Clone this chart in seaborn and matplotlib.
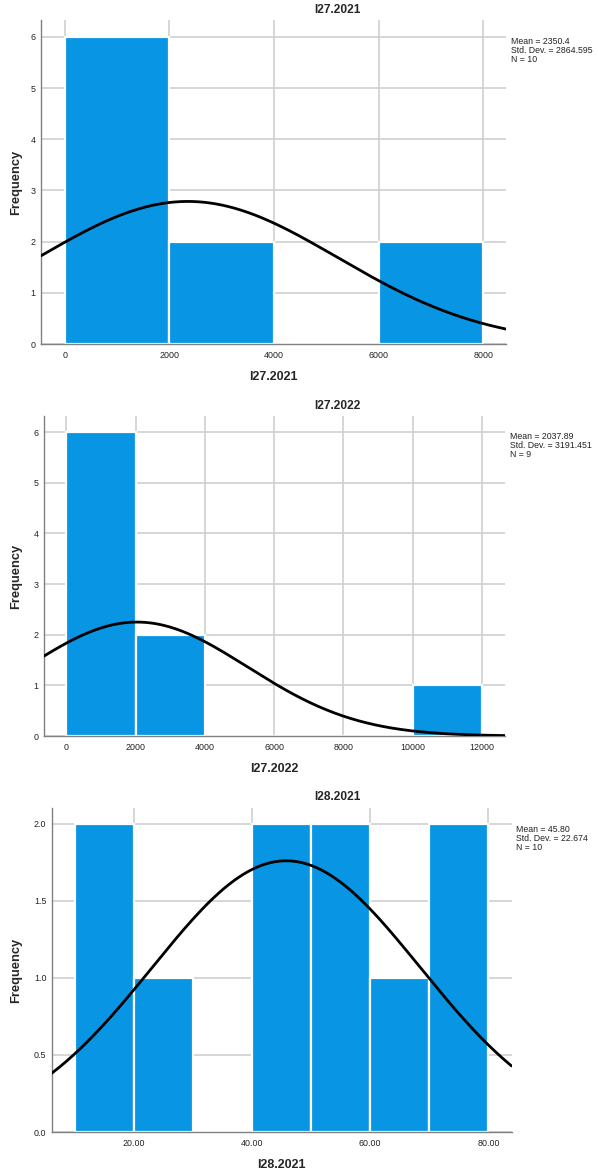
import numpy as np
import pandas as pd
import matplotlib
matplotlib.use("Agg")
import matplotlib.pyplot as plt
import seaborn as sns

# ---- data ----
p1_edges = [0, 2000, 4000, 6000, 8000]
p1_counts = [6, 2, 0, 2]
p1_mean, p1_sd, p1_n = 2350.4, 2864.595, 10

p2_edges = [0, 2000, 4000, 6000, 8000, 10000, 12000]
p2_counts = [6, 2, 0, 0, 0, 1]
p2_mean, p2_sd, p2_n = 2037.89, 3191.451, 9

p3_edges = [10, 20, 30, 40, 50, 60, 70, 80]
p3_counts = [2, 1, 0, 2, 2, 1, 2]
p3_mean, p3_sd, p3_n = 45.80, 22.674, 10

titles = ["I27.2021", "I27.2022", "I28.2021"]
stats_texts = ["Mean = 2350.4\nStd. Dev. = 2864.595\nN = 10",
               "Mean = 2037.89\nStd. Dev. = 3191.451\nN = 9",
               "Mean = 45.80\nStd. Dev. = 22.674\nN = 10"]
p1_xticks = [0, 2000, 4000, 6000, 8000]
p2_xticks = [0, 2000, 4000, 6000, 8000, 10000, 12000]
p3_xticks = [20, 40, 60, 80]
p1_yticks = [0, 1, 2, 3, 4, 5, 6]
p2_yticks = [0, 1, 2, 3, 4, 5, 6]
p3_yticks = [0.0, 0.5, 1.0, 1.5, 2.0]

sns.set_theme(style="white")
plt.rcParams['font.family'] = ['Liberation Sans', 'DejaVu Sans']

W, H = 598, 1174
fig = plt.figure(figsize=(W / 100, H / 100), dpi=100)

BAR = "#0795E4"
GRID = "#cfcfcf"
SPINE = "#808080"

panels = [
    dict(edges=p1_edges, counts=p1_counts, mean=p1_mean, sd=p1_sd, n=p1_n,
         rect=(41.2, 20, 506, 344), xlim=(-453, 8434), ylim=(0, 6.33),
         xticks=p1_xticks, yticks=p1_yticks, xfmt="{:.0f}", yfmt="{:.0f}",
         title_y=10, stats_x=511, stats_y=37),
    dict(edges=p2_edges, counts=p2_counts, mean=p2_mean, sd=p2_sd, n=p2_n,
         rect=(43.9, 416, 504.6, 736), xlim=(-652, 12660), ylim=(0, 6.32),
         xticks=p2_xticks, yticks=p2_yticks, xfmt="{:.0f}", yfmt="{:.0f}",
         title_y=406, stats_x=510, stats_y=432),
    dict(edges=p3_edges, counts=p3_counts, mean=p3_mean, sd=p3_sd, n=p3_n,
         rect=(51.9, 808.3, 511.5, 1132), xlim=(6.17, 83.9), ylim=(0, 2.10),
         xticks=p3_xticks, yticks=p3_yticks, xfmt="{:.2f}", yfmt="{:.1f}",
         title_y=797, stats_x=516, stats_y=825),
]

for i, p in enumerate(panels):
    x0, y0, x1, y1 = p["rect"]
    ax = fig.add_axes([x0 / W, 1 - y1 / H, (x1 - x0) / W, (y1 - y0) / H])
    edges = [float(e) for e in p["edges"]]
    centers = [(a + b) / 2 for a, b in zip(edges[:-1], edges[1:])]
    df = pd.DataFrame({"x": centers, "w": p["counts"]})
    sns.histplot(data=df, x="x", weights="w", bins=edges, ax=ax,
                 color=BAR, alpha=1.0, edgecolor="white", linewidth=1.6,
                 zorder=2)
    # normal curve from reported statistics
    bw = edges[1] - edges[0]
    xs = np.linspace(p["xlim"][0], p["xlim"][1], 400)
    ys = p["n"] * bw * np.exp(-0.5 * ((xs - p["mean"]) / p["sd"]) ** 2) / (p["sd"] * np.sqrt(2 * np.pi))
    sns.lineplot(x=xs, y=ys, ax=ax, color="black", linewidth=2.0, zorder=3)

    ax.set_xlim(*p["xlim"])
    ax.set_ylim(*p["ylim"])
    ax.set_xticks(p["xticks"])
    ax.set_yticks(p["yticks"])
    ax.set_xticklabels([p["xfmt"].format(v) for v in p["xticks"]])
    ax.set_yticklabels([p["yfmt"].format(v) for v in p["yticks"]])
    ax.tick_params(axis="both", length=0, labelsize=6.4, colors="#222222")
    ax.tick_params(axis="x", pad=5)
    ax.tick_params(axis="y", pad=4)
    ax.set_axisbelow(True)
    ax.grid(True, color=GRID, linewidth=1.2)
    for s in ["top", "right"]:
        ax.spines[s].set_visible(False)
    for s in ["left", "bottom"]:
        ax.spines[s].set_color(SPINE)
        ax.spines[s].set_linewidth(1.0)
    ax.set_xlabel("")
    ax.set_ylabel("")

    # y label
    fig.text(16 / W, 1 - ((y0 + y1) / 2) / H, "Frequency", rotation=90,
             ha="center", va="center", fontsize=9.3, fontweight="bold")
    # x label
    fig.text(((x0 + x1) / 2) / W, 1 - (y1 + 33) / H, titles[i],
             ha="center", va="center", fontsize=9, fontweight="bold")
    # title
    fig.text(337 / W, 1 - p["title_y"] / H, titles[i],
             ha="center", va="center", fontsize=8.6, fontweight="bold")
    # stats
    fig.text(p["stats_x"] / W, 1 - p["stats_y"] / H, stats_texts[i],
             ha="left", va="top", fontsize=6.3, linespacing=1.0,
             color="#222222")

fig.savefig("out.png", dpi=100)
